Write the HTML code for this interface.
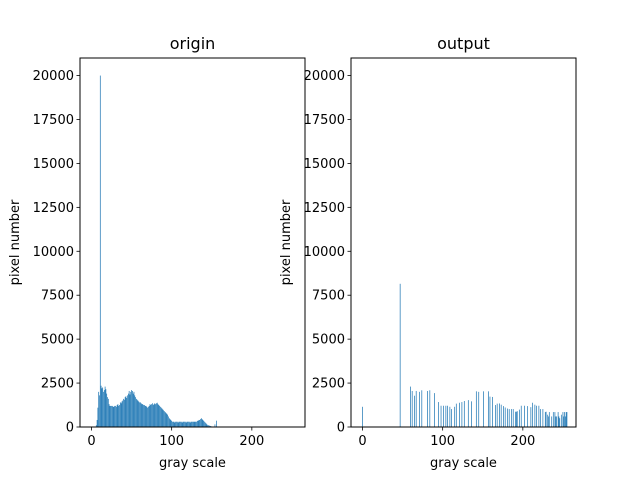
<!DOCTYPE html>
<html><head><meta charset="utf-8"><style>
body{margin:0;background:#fff}
svg text{font-family:"DejaVu Sans","Liberation Sans",sans-serif;fill:#000}
</style></head><body>
<svg id="fig" width="640" height="480" xmlns="http://www.w3.org/2000/svg"></svg>
<script>
// origin histogram: gray levels 6..158
const originStart = 6;
const originCounts = [
100,400,1100,2000,1800,20000,2350,2200,2250,2000,
2100,2300,2150,1900,1700,1600,1300,1200,1200,1200,
1200,1150,1150,1200,1200,1150,1250,1300,1200,1250,
1400,1350,1450,1500,1600,1550,1700,1750,1650,1800,
1900,2050,1850,2000,2100,2050,1900,2000,1800,1700,
1600,1550,1500,1450,1400,1400,1350,1300,1300,1250,
1250,1200,1200,1150,1100,1150,1200,1300,1250,1300,
1350,1250,1300,1350,1300,1350,1380,1300,1250,1200,
1150,1100,1050,1000,950,900,850,800,750,700,
600,500,450,400,350,300,300,300,250,300,
300,300,250,300,300,300,300,250,300,300,
300,300,250,300,300,300,300,250,300,300,
300,300,300,300,300,300,350,350,400,400,
450,500,450,400,350,300,250,200,150,100,
100,80,60,50,0,0,0,0,150,0,
360,0,0];
// output histogram: sparse gray levels
const outputGrays = [0,47,60,62,65,67,71,74,81,84,90,95,98,101,104,106,109,111,115,117,121,124,127,132,136,142,145,151,157,159,162,166,168,171,173,176,178,181,183,186,188,191,192,193,196,198,202,206,210,212,215,217,220,222,225,228,229,231,232,233,236,238,240,241,242,244,245,246,248,250,251,252,253,254,255];
const outputCounts = [1150,8150,2300,2050,1780,2050,2000,2090,2050,2090,1930,1420,1210,1210,1210,1210,1150,1020,1150,1330,1380,1420,1480,1530,1460,2030,2000,2030,2030,1730,1710,1250,1330,1340,1270,1190,1110,1050,1020,1020,1020,870,870,900,990,1210,1210,1190,1130,1380,1270,1210,1210,1020,1020,850,870,700,600,850,600,850,850,600,600,850,600,500,700,850,600,850,600,850,850];
const yTicks = [0,2500,5000,7500,10000,12500,15000,17500,20000];
const xTicks = [0,100,200];

const svg = document.getElementById('fig');
const NS = 'http://www.w3.org/2000/svg';
function mk(tag, attrs, parent){const e=document.createElementNS(NS,tag);for(const k in attrs)e.setAttribute(k,attrs[k]);(parent||svg).appendChild(e);return e;}

function drawAxes(x0, title, grays, counts, name){
  const top=58, bot=427, w=225;
  const ppu = w / 280.6;
  const xs = g => x0 + (g + 14.3) * ppu;
  const ys = v => bot - v * (bot - top) / 21000;
  const g = mk('g', {});
  
  
  for (let i=0;i<grays.length;i++){
    if (!counts[i]) continue;
    const r = mk('rect', {x:xs(grays[i]-0.45), y:ys(counts[i]), width:0.9*ppu, height:bot-ys(counts[i]), fill:'#1f77b4'}, g);
    
    
  }
  mk('rect', {x:x0, y:top, width:w, height:bot-top, fill:'none', stroke:'#000', 'stroke-width':1}, g);
  yTicks.forEach(t=>{
    const y=ys(t);
    mk('line',{x1:x0-3.5,x2:x0,y1:y,y2:y,stroke:'#000','stroke-width':0.8},g);
    const tx=mk('text',{x:x0-6,y:y+4.5,'text-anchor':'end','font-size':'13'},g); tx.textContent=t;
    
    
  });
  xTicks.forEach(t=>{
    const x=xs(t);
    mk('line',{x1:x,x2:x,y1:bot,y2:bot+3.5,stroke:'#000','stroke-width':0.8},g);
    const tx=mk('text',{x:x,y:bot+18,'text-anchor':'middle','font-size':'13'},g); tx.textContent=t;
    
    
  });
  const tt=mk('text',{x:x0+w/2,y:top-9,'text-anchor':'middle','font-size':'16'},g); tt.textContent=title;
  
  
  const xl=mk('text',{x:x0+w/2,y:467,'text-anchor':'middle','font-size':'13'},g); xl.textContent='gray scale';
  
  
  const yl=mk('text',{x:0,y:0,'text-anchor':'middle','font-size':'13',transform:`translate(${x0-61},${(top+bot)/2}) rotate(-90)`},g); yl.textContent='pixel number';
  
  
}
const originGrays = originCounts.map((_, i) => originStart + i);
drawAxes(80, 'origin', originGrays, originCounts, 'origin');
drawAxes(351, 'output', outputGrays, outputCounts, 'output');
</script>
</body></html>
